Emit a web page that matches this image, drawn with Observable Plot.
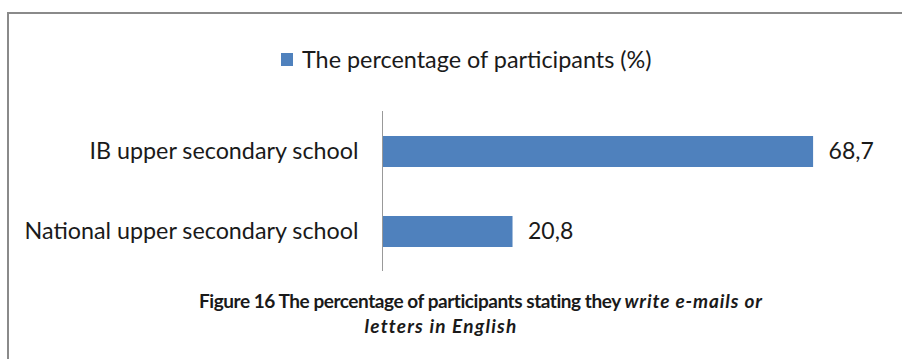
<!DOCTYPE html>
<html>
<head>
<meta charset="utf-8">
<script src="https://cdn.jsdelivr.net/npm/d3@7"></script>
<script src="https://cdn.jsdelivr.net/npm/@observablehq/plot@0.6"></script>
<style>
  html, body { margin: 0; padding: 0; background: #fff; }
  #wrap { position: relative; width: 902px; height: 359px; overflow: hidden; font-family: Lato, "Open Sans", sans-serif; color: #1a1a1a; }
  #frame { position: absolute; left: 7px; top: 12px; width: 1000px; height: 1000px; border-left: 2px solid #8a8a8a; border-top: 2px solid #8a8a8a; }
  #legend { position: absolute; left: 281px; top: 45px; font-size: 23.4px; white-space: nowrap; display: flex; align-items: center; }
  #legend .sw { display: inline-block; width: 12px; height: 13px; margin-right: 9px; }
  #chart { position: absolute; left: 0; top: 100px; }
  .cap { position: absolute; font-size: 19px; font-weight: bold; white-space: nowrap; transform: translateX(-50%); letter-spacing: -0.45px; }
  .cap i { letter-spacing: 0.9px; }
  #cap2 i { letter-spacing: 1.2px; }
</style>
</head>
<body>
<div id="wrap">
  <div id="frame"></div>
  <div id="legend"></div>
  <div id="chart"></div>
  <div class="cap" id="cap1" style="left:481px; top:289px;"></div>
  <div class="cap" id="cap2" style="left:441px; top:314px;"></div>
</div>
<script>
// ---- data ----
const categories = ["IB upper secondary school", "National upper secondary school"];
const values = [68.7, 20.8];
const seriesName = "The percentage of participants (%)";
const seriesColor = "#4f81bd";
const captionLine1Regular = "Figure 16 The percentage of participants stating they ";
const captionLine1Italic = "write e-mails or";
const captionLine2Italic = "letters in English";

const rows = categories.map((c, i) => ({category: c, value: values[i]}));
const fmt = d3.formatLocale({decimal: ",", thousands: " ", grouping: [3], currency: ["", ""]}).format(".1f");

// legend
const lg = document.getElementById("legend");
lg.innerHTML = `<span class="sw" style="background:${seriesColor}"></span><span>${seriesName}</span>`;

// caption
document.getElementById("cap1").innerHTML = `${captionLine1Regular}<i>${captionLine1Italic}</i>`;
document.getElementById("cap2").innerHTML = `<i>${captionLine2Italic}</i>`;

const plot = Plot.plot({
  width: 902,
  height: 180,
  marginLeft: 382,
  marginRight: 18,
  marginTop: 11,
  marginBottom: 9,
  style: {fontFamily: "Lato, 'Open Sans', sans-serif", fontSize: "23.3px", color: "#1a1a1a", background: "transparent"},
  x: {domain: [0, 80], axis: null},
  y: {domain: categories, paddingInner: 0.6125, paddingOuter: 0.306, label: null, tickSize: 0, tickPadding: 24},
  marks: [
    Plot.barX(rows, {x: "value", y: "category", fill: seriesColor}),
    Plot.text(rows, {x: "value", y: "category", text: d => fmt(d.value), textAnchor: "start", dx: 15, fontSize: 23, fill: "#1a1a1a"}),
    Plot.ruleX([0], {stroke: "#999", strokeWidth: 1})
  ]
});
document.getElementById("chart").appendChild(plot);
</script>
</body>
</html>
